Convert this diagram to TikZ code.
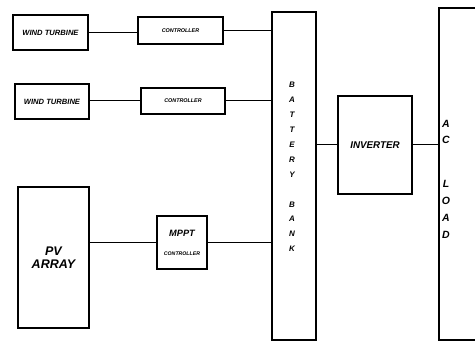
\documentclass[tikz,border=0pt]{standalone}
\usepackage{fontspec}
\setmainfont{Liberation Sans}

\begin{document}
\begin{tikzpicture}[x=1pt,y=-1pt,
  blk/.style={draw,line width=1.3pt,inner sep=0pt,align=center,font=\bfseries\itshape},
  wire/.style={line width=1pt}]
\useasboundingbox (0,0) rectangle (475,342);
\node[blk,minimum width=75pt,minimum height=35pt,font=\fontsize{7.6}{8}\selectfont\bfseries\itshape] (wt1) at (50.5,32.5) {WIND TURBINE};
\node[blk,minimum width=85pt,minimum height=27pt,font=\fontsize{5.4}{6}\selectfont\bfseries\itshape] (ct1) at (180.5,30.5) {CONTROLLER};
\node[blk,minimum width=74pt,minimum height=35pt,font=\fontsize{7.6}{8}\selectfont\bfseries\itshape] (wt2) at (52,101.5) {WIND TURBINE};
\node[blk,minimum width=84pt,minimum height=26pt,font=\fontsize{5.4}{6}\selectfont\bfseries\itshape] (ct2) at (183,101) {CONTROLLER};
\node[blk,minimum width=71pt,minimum height=141pt,font=\fontsize{12.5}{13}\selectfont\bfseries\itshape] (pv) at (53.5,257.5) {PV\\ARRAY};
\node[blk,minimum width=50pt,minimum height=53pt] (mppt) at (182,242.5) {{\fontsize{9.2}{10}\selectfont MPPT}\\[7pt]{\fontsize{5.2}{6}\selectfont CONTROLLER}};
\node[blk,minimum width=44pt,minimum height=328pt] (bank) at (294,176) {};
\node[font=\fontsize{8}{14.9}\selectfont\bfseries\itshape,align=center] (banktxt) at (292,167) {B\\A\\T\\T\\E\\R\\Y\\[14.9pt]B\\A\\N\\K};
\node[blk,minimum width=74pt,minimum height=98pt,font=\fontsize{9.8}{10}\selectfont\bfseries\itshape] (inv) at (375,145) {INVERTER};
\node[blk,minimum width=40pt,minimum height=332pt] (load) at (459,174) {};
\node[font=\fontsize{10.5}{16.7}\selectfont\bfseries\itshape,align=center] (loadtxt) at (446,179) {A\\C\\[27.3pt]L\\O\\A\\D};
\draw[wire] (wt1.east) -- (wt1.east -| ct1.west);
\draw[wire] (wt2.east |- ct2) -- (ct2.west);
\draw[wire] (pv.east |- mppt) -- (mppt);
\draw[wire] (ct1.east) -- (ct1.east -| bank.west);
\draw[wire] (ct2.east) -- (ct2.east -| bank.west);
\draw[wire] (mppt.east) -- (mppt.east -| bank.west);
\draw[wire] (inv.west -| bank.east) -- (inv.west);
\draw[wire] (inv.east) -- (inv.east -| load.west);
\end{tikzpicture}
\end{document}
